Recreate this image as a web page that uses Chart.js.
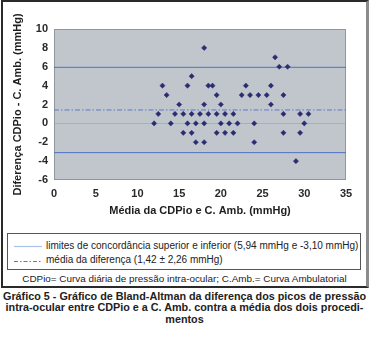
<!DOCTYPE html>
<html>
<head>
<meta charset="utf-8">
<script src="https://cdn.jsdelivr.net/npm/chart.js@4/dist/chart.umd.min.js"></script>
<style>
  html, body { margin: 0; padding: 0; background: #ffffff; }
  body { width: 369px; height: 337px; position: relative; overflow: hidden; font-family: "Liberation Sans", Arial, sans-serif; }
  #frame { position: absolute; left: 1px; top: 0px; width: 363px; height: 284px; border-left: 2px solid #2a2a2a; border-top: 2px solid #2a2a2a; border-bottom: 2px solid #2a2a2a; border-right: 3px solid #8c8c8c; }
  #chartCanvas { position: absolute; left: 0; top: 0; }
  #legendBox { position: absolute; left: 7px; top: 233px; width: 354px; height: 37px; border: 1px solid #555; box-sizing: border-box; }
  .legRow { position: absolute; left: 6px; height: 12px; font-size: 10px; color: #222; white-space: nowrap; }
  .legRow svg { position: absolute; left: 0; top: 0; }
  .legRow span { position: absolute; left: 32px; top: -1px; }
  #note { position: absolute; left: 0; top: 273px; width: 369px; text-align: center; font-size: 9.9px; color: #222; white-space: nowrap; }
  #caption { position: absolute; left: 0; top: 291px; width: 369px; text-align: center; font-size: 10.8px; font-weight: bold; color: #222; line-height: 11.4px; white-space: nowrap; }
</style>
</head>
<body>
<div id="frame"></div>
<canvas id="chartCanvas" width="369" height="225"></canvas>
<div id="legendBox">
  <div class="legRow" style="top:7px;">
    <svg width="30" height="12"><line x1="0" y1="5.5" x2="28" y2="5.5" stroke="#a9c2e8" stroke-width="1.2"/></svg>
    <span id="leg1"></span>
  </div>
  <div class="legRow" style="top:21px;">
    <svg width="30" height="12"><line x1="0" y1="6.5" x2="28" y2="6.5" stroke="#5a78c8" stroke-width="1" stroke-dasharray="4,2,1.5,2"/></svg>
    <span id="leg2"></span>
  </div>
</div>
<div id="note">CDPio= Curva diária de pressão intra-ocular; C.Amb.= Curva Ambulatorial</div>
<div id="caption">Gráfico 5 - Gráfico de Bland-Altman da diferença dos picos de pressão<br>intra-ocular entre CDPio e a C. Amb. contra a média dos dois procedi-<br>mentos</div>
<script>
// ---- Data ----
const meanValues = [12, 12.5, 13, 13.5, 14, 14.5, 15, 15.5, 15.5, 16, 16, 16.5, 16.5, 16.5, 17, 17, 17.5,
  18, 18, 18, 18, 18.5, 18.5, 19, 19.5, 19.5, 19.5, 20, 20, 20.5, 20.5, 21, 21.5, 21.5, 22, 22.5, 23,
  23.5, 24, 24, 24.5, 25.5, 26, 26, 26.5, 27, 27.5, 27.5, 27.5, 28, 29, 29.5, 29.5, 30, 30.5];
const diffValues = [0, 1, 4, 3, 0, 1, 2, 1, -1, 4, 0, 5, 1, -1, 0, -2, 1,
  8, 2, 0, -2, 4, 1, 4, 3, 1, -1, 2, 0, 1, -1, 0, 1, -1, 0, 3, 4,
  3, 0, -2, 3, 3, 4, 2, 7, 6, 3, 1, -1, 6, -4, 1, -1, 0, 1];
const limitUpper = 5.94;
const limitLower = -3.10;
const meanDiff = 1.42;
const xRange = [0, 35];
const yRange = [-6, 10];
const xTickStep = 5;
const yTickStep = 2;
const xTitle = 'Média da CDPio e C. Amb. (mmHg)';
const yTitle = 'Diferença CDPio - C. Amb. (mmHg)';
const legendLabels = [
  'limites de concordância superior e inferior (5,94 mmHg e -3,10 mmHg)',
  'média da diferença (1,42 ± 2,26 mmHg)'
];

document.getElementById('leg1').textContent = legendLabels[0];
document.getElementById('leg2').textContent = legendLabels[1];

const points = meanValues.map((m, i) => ({ x: m, y: diffValues[i] }));
const hLine = v => [{ x: xRange[0], y: v }, { x: xRange[1], y: v }];

const plotBg = {
  id: 'plotBg',
  beforeDraw(chart) {
    const { ctx, chartArea: a } = chart;
    ctx.save();
    ctx.fillStyle = '#c0c6cc';
    ctx.fillRect(a.left, a.top, a.right - a.left, a.bottom - a.top);
    ctx.restore();
  },
  beforeDatasetsDraw(chart) {
    const { ctx, chartArea: a } = chart;
    ctx.save();
    ctx.strokeStyle = '#8f969c';
    ctx.lineWidth = 1;
    ctx.strokeRect(Math.round(a.left) + 0.5, Math.round(a.top) + 0.5, Math.round(a.right - a.left) - 1, Math.round(a.bottom - a.top) - 1);
    ctx.restore();
  }
};

const tickFont = { family: '"Liberation Sans", Arial, sans-serif', size: 11, weight: 'bold' };
const titleFont = { family: '"Liberation Sans", Arial, sans-serif', size: 11, weight: 'bold' };

new Chart(document.getElementById('chartCanvas'), {
  type: 'scatter',
  data: {
    datasets: [
      {
        label: 'pontos',
        data: points,
        pointStyle: 'rectRot',
        pointRadius: 2.6,
        backgroundColor: '#2b2b72',
        borderColor: '#2b2b72',
        borderWidth: 0.5,
        showLine: false
      },
      {
        label: 'limite superior',
        type: 'line',
        data: hLine(limitUpper),
        borderColor: '#4f72c2',
        borderWidth: 1,
        pointRadius: 0,
        fill: false
      },
      {
        label: 'limite inferior',
        type: 'line',
        data: hLine(limitLower),
        borderColor: '#4f72c2',
        borderWidth: 1,
        pointRadius: 0,
        fill: false
      },
      {
        label: 'média',
        type: 'line',
        data: hLine(meanDiff),
        borderColor: '#5a7ccc',
        borderWidth: 1,
        borderDash: [5, 2, 1.5, 2],
        pointRadius: 0,
        fill: false
      }
    ]
  },
  options: {
    responsive: false,
    animation: false,
    devicePixelRatio: 1,
    layout: { padding: { left: 0, right: 23, top: 29, bottom: 0 } },
    plugins: { legend: { display: false }, tooltip: { enabled: false } },
    scales: {
      x: {
        type: 'linear',
        min: xRange[0], max: xRange[1],
        afterFit(scale) { scale.height = 45; },
        ticks: { stepSize: xTickStep, color: '#2a2a2a', font: tickFont, padding: 7, maxRotation: 0 },
        grid: { display: false, drawTicks: false },
        border: { display: false },
        title: { display: true, text: xTitle, color: '#1e1e1e', font: titleFont, padding: { top: 0, bottom: 7 } }
      },
      y: {
        type: 'linear',
        min: yRange[0], max: yRange[1],
        afterFit(scale) { scale.width = 54; },
        ticks: { stepSize: yTickStep, color: '#2a2a2a', font: tickFont, padding: 6 },
        grid: {
          drawTicks: false,
          color: c => (c.tick && c.tick.value === 0) ? '#aab0b6' : 'rgba(0,0,0,0)',
          lineWidth: 1
        },
        border: { display: false },
        title: { display: true, text: yTitle, color: '#1e1e1e', font: titleFont, padding: { top: 11, bottom: 0 } }
      }
    }
  },
  plugins: [plotBg]
});
</script>
</body>
</html>
